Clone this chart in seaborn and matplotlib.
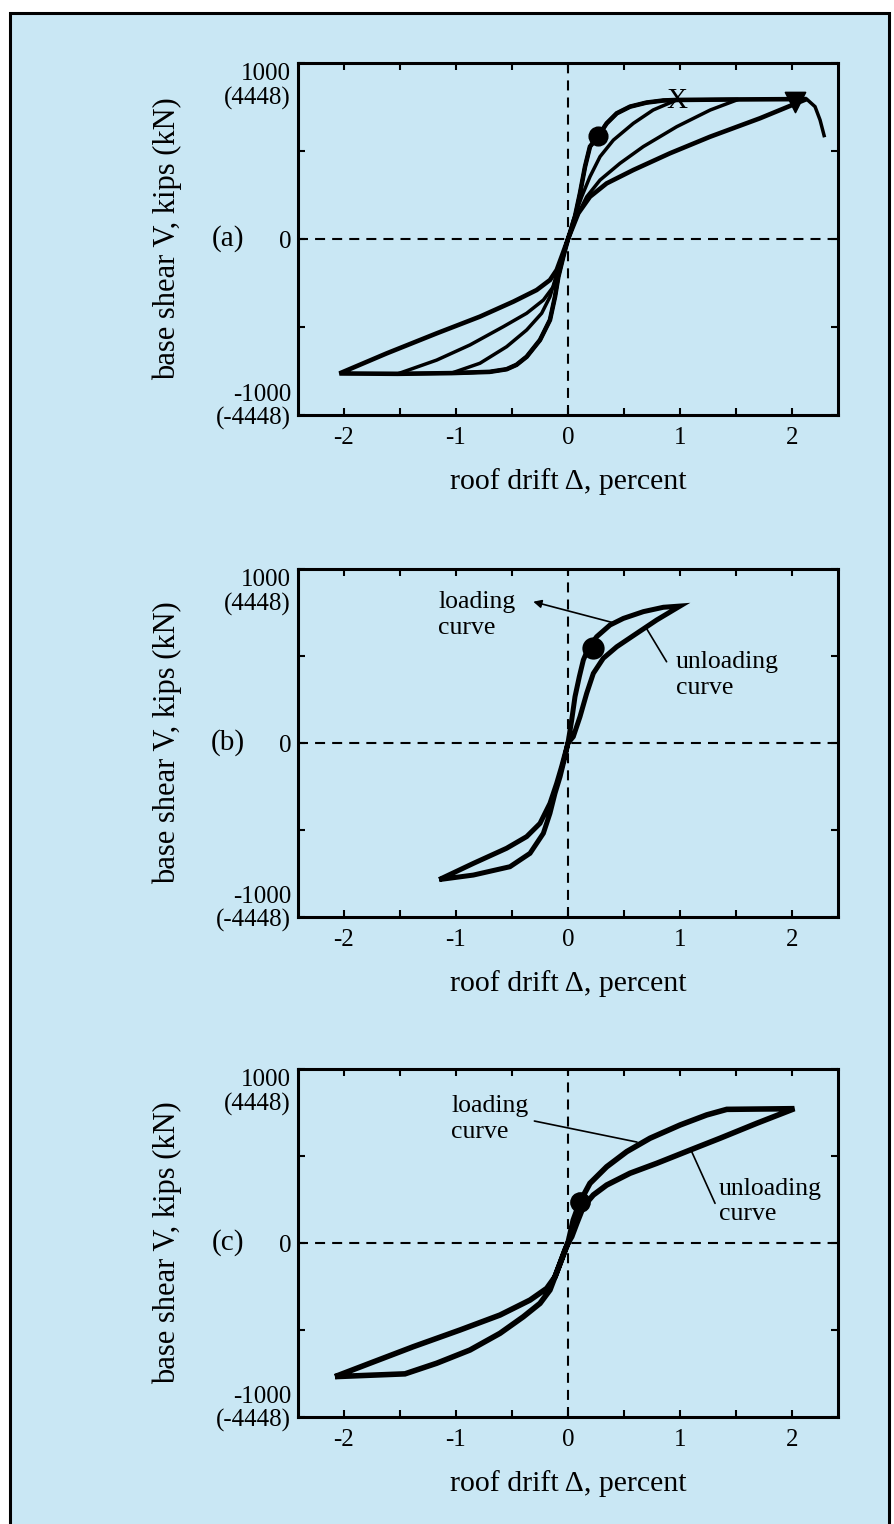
import numpy as np
import pandas as pd
import matplotlib
matplotlib.use("Agg")
import matplotlib.pyplot as plt
from matplotlib.patches import Rectangle
from matplotlib.transforms import ScaledTranslation
import seaborn as sns

# ---------------- data (roof drift %, base shear kips) ----------------
# panel (a): cyclic pushover
a_env_x = [0, 0.062, 0.107, 0.152, 0.196, 0.27, 0.345, 0.435, 0.554, 0.70, 0.85, 0.97, 1.52, 2.13]
a_env_y = [0, 127, 260, 411, 525, 585, 657, 714, 752, 775, 787, 790, 793, 795]
a_drop_x = [2.03, 2.13, 2.205, 2.25, 2.29]
a_drop_y = [794, 795, 752, 676, 578]
a_nenv_x = [0, -0.042, -0.086, -0.116, -0.161, -0.25, -0.369, -0.46, -0.548, -0.7, -1.04, -1.52, -2.04]
a_nenv_y = [0, -100, -214, -328, -460, -574, -669, -715, -740, -755, -762, -766, -764]
a_un1_x = [0.76, 0.583, 0.405, 0.286, 0.196, 0.122, 0.048, 0]
a_un1_y = [733, 657, 562, 468, 354, 240, 108, 0]
a_un2_x = [1.27, 0.97, 0.672, 0.464, 0.286, 0.167, 0.078, 0]
a_un2_y = [733, 638, 525, 430, 335, 240, 127, 0]
a_un3_x = [1.714, 1.268, 0.91, 0.583, 0.345, 0.196, 0.092, 0]
a_un3_y = [686, 581, 487, 392, 316, 240, 146, 0]
a_nun1_x = [-0.786, -0.548, -0.369, -0.235, -0.161, -0.116, -0.071, 0]
a_nun1_y = [-706, -612, -517, -422, -328, -233, -138, 0]
a_nun2_x = [-1.172, -0.875, -0.577, -0.369, -0.22, -0.131, -0.086, -0.04, 0]
a_nun2_y = [-688, -602, -498, -422, -347, -271, -176, -80, 0]
a_nun3_x = [-1.619, -1.172, -0.786, -0.488, -0.28, -0.161, -0.101, -0.057, 0]
a_nun3_y = [-650, -536, -441, -356, -290, -233, -176, -100, 0]
a_peak_idx = [11, 12, 13]
a_tip_idx = [10, 11, 12]
a_dot = (0.27, 585)
a_xmark = (0.97, 786)
a_tri = (2.03, 776)

# panel (b): loading / unloading loop
b_up_x = [-1.15, -0.845, -0.548, -0.369, -0.25, -0.161, -0.101, -0.057, 0, 0.033, 0.0625,
          0.101, 0.137, 0.181, 0.256, 0.375, 0.494, 0.673, 0.851, 1.0]
b_up_y = [-785, -692, -605, -538, -462, -347, -232, -136, 0, 132, 266,
          381, 477, 544, 611, 678, 716, 755, 780, 787]
b_low_x = [-1.15, -0.845, -0.518, -0.339, -0.22, -0.161, -0.116, -0.071, -0.027, 0, 0.047,
           0.107, 0.167, 0.226, 0.315, 0.435, 0.613, 0.792, 1.0]
b_low_y = [-785, -759, -711, -634, -519, -404, -289, -194, -79, 0, 36,
           151, 286, 400, 487, 553, 630, 707, 787]
b_dot = (0.22, 548)

# panel (c)
c_up_x = [-2.08, -1.768, -1.381, -0.964, -0.607, -0.339, -0.19, -0.116, -0.071, -0.027, 0,
          0.047, 0.107, 0.196, 0.345, 0.524, 0.732, 1.0, 1.238, 1.417, 2.02]
c_up_y = [-768, -691, -596, -500, -414, -328, -261, -194, -117, -40, 0,
          132, 237, 343, 438, 525, 602, 678, 736, 768, 772]
c_low_x = [-2.08, -1.455, -1.172, -0.875, -0.607, -0.399, -0.25, -0.161, -0.116, -0.06, 0,
           0.033, 0.078, 0.137, 0.226, 0.345, 0.554, 0.792, 1.089, 1.357, 1.685, 2.02]
c_low_y = [-768, -752, -691, -615, -519, -424, -347, -270, -194, -100, 0,
           36, 113, 209, 276, 333, 401, 458, 534, 602, 688, 772]
c_dot = (0.11, 235)

x_ticks = [-2, -1.5, -1, -0.5, 0, 0.5, 1, 1.5, 2]
x_labels = ["-2", "", "-1", "", "0", "", "1", "", "2"]
y_ticks = [-1000, -500, 0, 500, 1000]
y_labels = ["-1000\n(-4448)", "", "0", "", "1000\n(4448)"]
panel_names = ["(a)", "(b)", "(c)"]
x_title = "roof drift Δ, percent"
y_title = "base shear V, kips (kN)"

# ---------------- style ----------------
sns.set_theme(style="ticks")
plt.rcParams["font.family"] = ["Liberation Serif", "DejaVu Serif"]
plt.rcParams["axes.unicode_minus"] = False
BG = "#c9e7f4"

W, H = 894, 1524
fig = plt.figure(figsize=(W / 100, H / 100), dpi=100, facecolor="white")
fig.patches.append(Rectangle((10 / W, -0.01), (889 - 10) / W, (H - 13) / H + 0.01,
                             transform=fig.transFigure, facecolor=BG,
                             edgecolor="black", lw=2.2, zorder=-10))


def box(top, bottom):
    return [298 / W, 1 - bottom / H, 540 / W, (bottom - top) / H]


def line(ax, xs, ys, lw):
    sns.lineplot(x=xs, y=ys, sort=False, estimator=None, color="black", linewidth=lw,
                 ax=ax, legend=False, solid_joinstyle="miter", solid_capstyle="butt")


def frame(ax, name):
    ax.set_facecolor("none")
    ax.set_xlim(-2.41, 2.41)
    ax.set_ylim(-1000, 1000)
    ax.axhline(0, color="black", lw=1.5, dashes=(4.8, 3.4), zorder=1)
    ax.axvline(0, color="black", lw=1.5, dashes=(4.8, 3.4), zorder=1)
    ax.set_xticks(x_ticks, x_labels)
    ax.set_yticks(y_ticks, y_labels)
    ax.tick_params(direction="in", length=5, width=1.5, top=True, right=True,
                   labelsize=18, color="black", labelcolor="black")
    ax.tick_params(axis="x", pad=9)
    ax.tick_params(axis="y", pad=5)
    for lab in ax.get_yticklabels():
        t = lab.get_text()
        if t.startswith("1000"):
            lab.set_va("top")
            lab.set_linespacing(1.1)
        elif t.startswith("-1000"):
            lab.set_va("center")
            lab.set_linespacing(1.1)
            lab.set_transform(lab.get_transform() +
                              ScaledTranslation(0, 0.08, fig.dpi_scale_trans))
    for s in ax.spines.values():
        s.set_linewidth(2.2)
        s.set_color("black")
    ax.set_xlabel(x_title, fontsize=21.5, labelpad=13, color="black")
    ax.set_ylabel(y_title, fontsize=22, color="black")
    ax.yaxis.set_label_coords(-0.215, 0.5)
    ax.text(-0.13, 0.5, name, transform=ax.transAxes, ha="center", va="center",
            fontsize=21, color="black")


def dot(ax, p, s, marker="o"):
    sns.scatterplot(x=[p[0]], y=[p[1]], marker=marker, s=s, color="black",
                    edgecolor="black", ax=ax, legend=False, zorder=6)


# ---------------- panel (a) ----------------
ax_a = fig.add_axes(box(63, 415))
frame(ax_a, panel_names[0])
uns = [(a_un1_x, a_un1_y), (a_un2_x, a_un2_y), (a_un3_x, a_un3_y)]
nuns = [(a_nun1_x, a_nun1_y), (a_nun2_x, a_nun2_y), (a_nun3_x, a_nun3_y)]
for i in range(3):
    p, n = a_peak_idx[i], a_tip_idx[i]
    xs = a_env_x[:p + 1] + uns[i][0] + a_nenv_x[1:n + 1] + nuns[i][0]
    ys = a_env_y[:p + 1] + uns[i][1] + a_nenv_y[1:n + 1] + nuns[i][1]
    line(ax_a, xs, ys, 3.3 if i == 2 else 2.5)
line(ax_a, a_drop_x, a_drop_y, 2.5)
dot(ax_a, a_dot, 180)
dot(ax_a, a_tri, 210, marker="v")
ax_a.text(a_xmark[0], a_xmark[1], "X", ha="center", va="center", fontsize=21, color="black", zorder=6)

# ---------------- panel (b) ----------------
ax_b = fig.add_axes(box(569, 917))
frame(ax_b, panel_names[1])
line(ax_b, b_up_x + b_low_x[::-1][1:], b_up_y + b_low_y[::-1][1:], 3.6)
dot(ax_b, b_dot, 220)
ax_b.text(-1.16, 736, "loading\ncurve", ha="left", va="center", fontsize=18.5, color="black")
ax_b.text(0.96, 391, "unloading\ncurve", ha="left", va="center", fontsize=18.5, color="black")
ax_b.annotate("", xy=(-0.31, 812), xytext=(0.405, 691),
              arrowprops=dict(arrowstyle="-|>", lw=1.2, color="black", mutation_scale=12,
                              shrinkA=0, shrinkB=0))
ax_b.plot([0.70, 0.88], [659, 467], color="black", lw=1.2)

# ---------------- panel (c) ----------------
ax_c = fig.add_axes(box(1069, 1417))
frame(ax_c, panel_names[2])
line(ax_c, c_up_x + c_low_x[::-1][1:], c_up_y + c_low_y[::-1][1:], 4.0)
dot(ax_c, c_dot, 190)
ax_c.text(-1.04, 713, "loading\ncurve", ha="left", va="center", fontsize=18.5, color="black")
ax_c.text(1.344, 237, "unloading\ncurve", ha="left", va="center", fontsize=18.5, color="black")
ax_c.plot([-0.30, 0.616], [701, 580], color="black", lw=1.2)
ax_c.plot([1.104, 1.3125], [525, 228], color="black", lw=1.2)

fig.savefig("out.png", dpi=100, facecolor=fig.get_facecolor())
